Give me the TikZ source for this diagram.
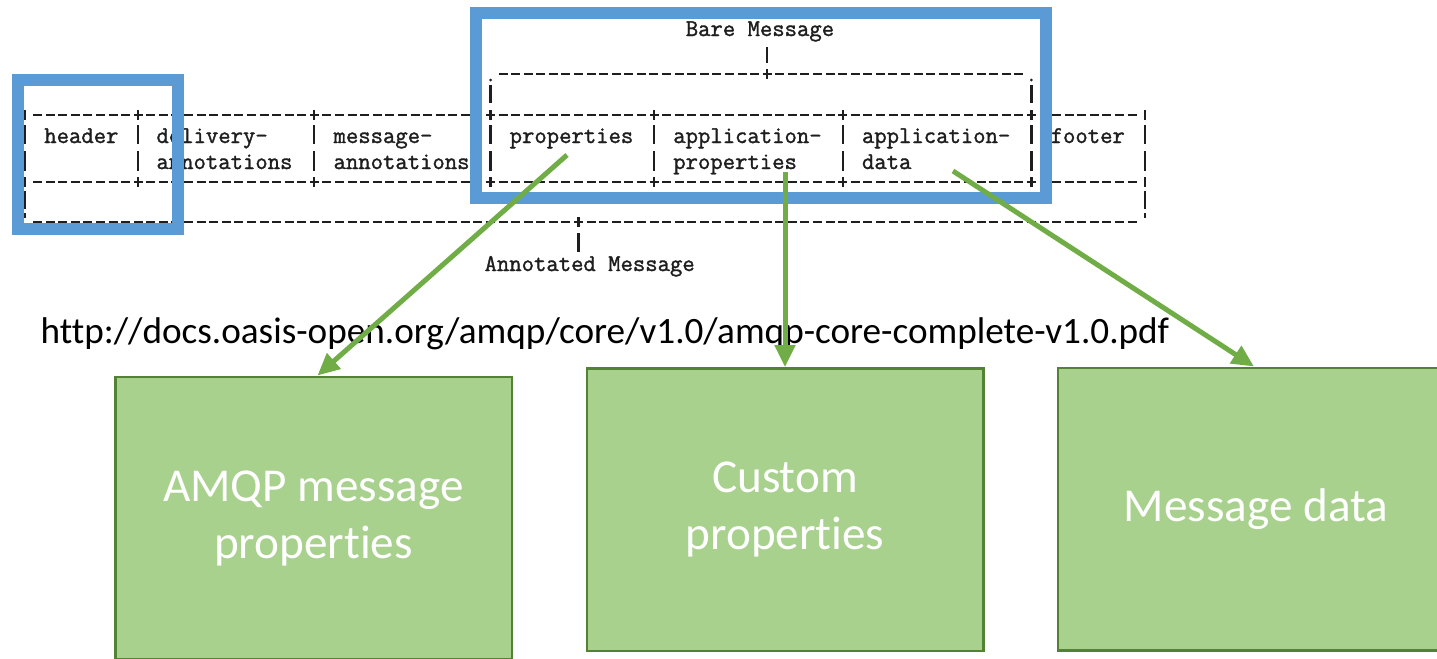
\documentclass[tikz,border=0pt]{standalone}
\usepackage{fontspec}
\newfontfamily\carlito[Ligatures={NoCommon,NoContextual}]{Carlito}
\newfontfamily\asciifont[FakeBold=1.4]{Latin Modern Mono}
\usetikzlibrary{arrows.meta}

\definecolor{frameblue}{RGB}{91,155,213}
\definecolor{arrowgreen}{RGB}{112,173,71}
\definecolor{boxgreen}{RGB}{169,209,142}
\definecolor{boxedge}{RGB}{84,130,53}
\definecolor{asciiink}{RGB}{30,30,30}

\tikzset{
  rule/.style={asciiink,line width=1.15pt,dash pattern=on 4.5pt off 1.79pt},
  bar/.style={asciiink,line width=1.1pt},
  cell/.style={anchor=base west,inner sep=0pt,text=asciiink,font=\asciifont\fontsize{12}{14}\selectfont},
  frame/.style={frameblue,line width=6pt},
  target/.style={draw=boxedge,fill=boxgreen,line width=1.25pt,minimum width=198.25pt,minimum height=141.25pt,
    align=center,text=white,font=\carlito\fontsize{23.6}{28.5}\selectfont},
  pointer/.style={arrowgreen,line width=2.5pt,-{Triangle[length=11pt,width=10pt]}}
}

\begin{document}
\begin{tikzpicture}[x=0.5pt,y=-0.5pt]
  \useasboundingbox (0,0) rectangle (1437,659);
  \clip (0,0) rectangle (1437,659);

  % the ascii table of the message
  \draw[rule] (33.1,115) -- (1136.5,115);
  \draw[rule] (33.1,182) -- (1136.5,182);
  \draw[rule] (33.1,222) -- (1136.5,222);
  \draw[rule] (498.5,74) -- (1023.3,74);
  \foreach \x in {25,138.2,314.3,490.5,654,842.7,1031.4,1144.6} {
    \draw[bar] (\x,110) -- (\x,120);
    \draw[bar] (\x,177) -- (\x,187);
    \draw[bar] (\x,125) -- (\x,144);
    \draw[bar] (\x,151) -- (\x,171);
  }
  \foreach \x in {25,1144.6} {
    \draw[bar] (\x,191) -- (\x,209);
    \draw[bar] (\x,213) -- (\x,218);
  }
  \foreach \x in {490.5,1031.4} {
    \fill[asciiink] (\x,80) circle (1.5);
    \draw[bar] (\x,85) -- (\x,103);
  }
  \draw[bar] (767.2,69) -- (767.2,79);
  \draw[bar] (767.2,47) -- (767.2,63);
  \draw[bar] (578.5,217) -- (578.5,227);
  \draw[bar] (578.5,233) -- (578.5,252);

  \node[cell] (bare) at (685.4,36) {Bare Message};
  \node[cell] (header) at (43.9,143) {header};
  \node[cell] (delivery) at (156.1,143) {delivery-};
  \node[cell] (deliveryb) at (156.1,169) {annotations};
  \node[cell] (message) at (333.2,143) {message-};
  \node[cell] (messageb) at (333.2,169) {annotations};
  \node[cell] (props) at (509.3,143) {properties};
  \node[cell] (appprops) at (672.9,143) {application-};
  \node[cell] (apppropsb) at (672.9,169) {properties};
  \node[cell] (appdata) at (861.6,143) {application-};
  \node[cell] (appdatab) at (861.6,169) {data};
  \node[cell] (footer) at (1050.3,143) {footer};
  \node[cell] (annotated) at (484.2,271) {Annotated Message};

  % highlight frames
  \draw[frame] (18,79.5) rectangle (178,229);
  \draw[frame] (476,12.5) rectangle (1045.5,198);

  \node[anchor=base,inner sep=0pt,font=\carlito\fontsize{18.6}{22}\selectfont] (source) at (605,343)
    {http://docs.oasis-open.org/amqp/core/v1.0/amqp-core-complete-v1.0.pdf};

  \node[target] (amqp) at (313.5,518) {AMQP message\\properties};
  \node[target] (custom) at (785,509.5) {Custom\\properties};
  \node[target] (data) at (1256,509) {Message data};

  \coordinate (propsfrom) at (567,155);
  \coordinate (appfrom) at (785,172);
  \coordinate (datafrom) at (953,171);
  \draw[pointer] (propsfrom) -- ([xshift=2pt]amqp.north);
  \draw[pointer] (appfrom) -- (custom.north);
  \draw[pointer] (datafrom) -- ([xshift=-1pt]data.north);
\end{tikzpicture}
\end{document}
